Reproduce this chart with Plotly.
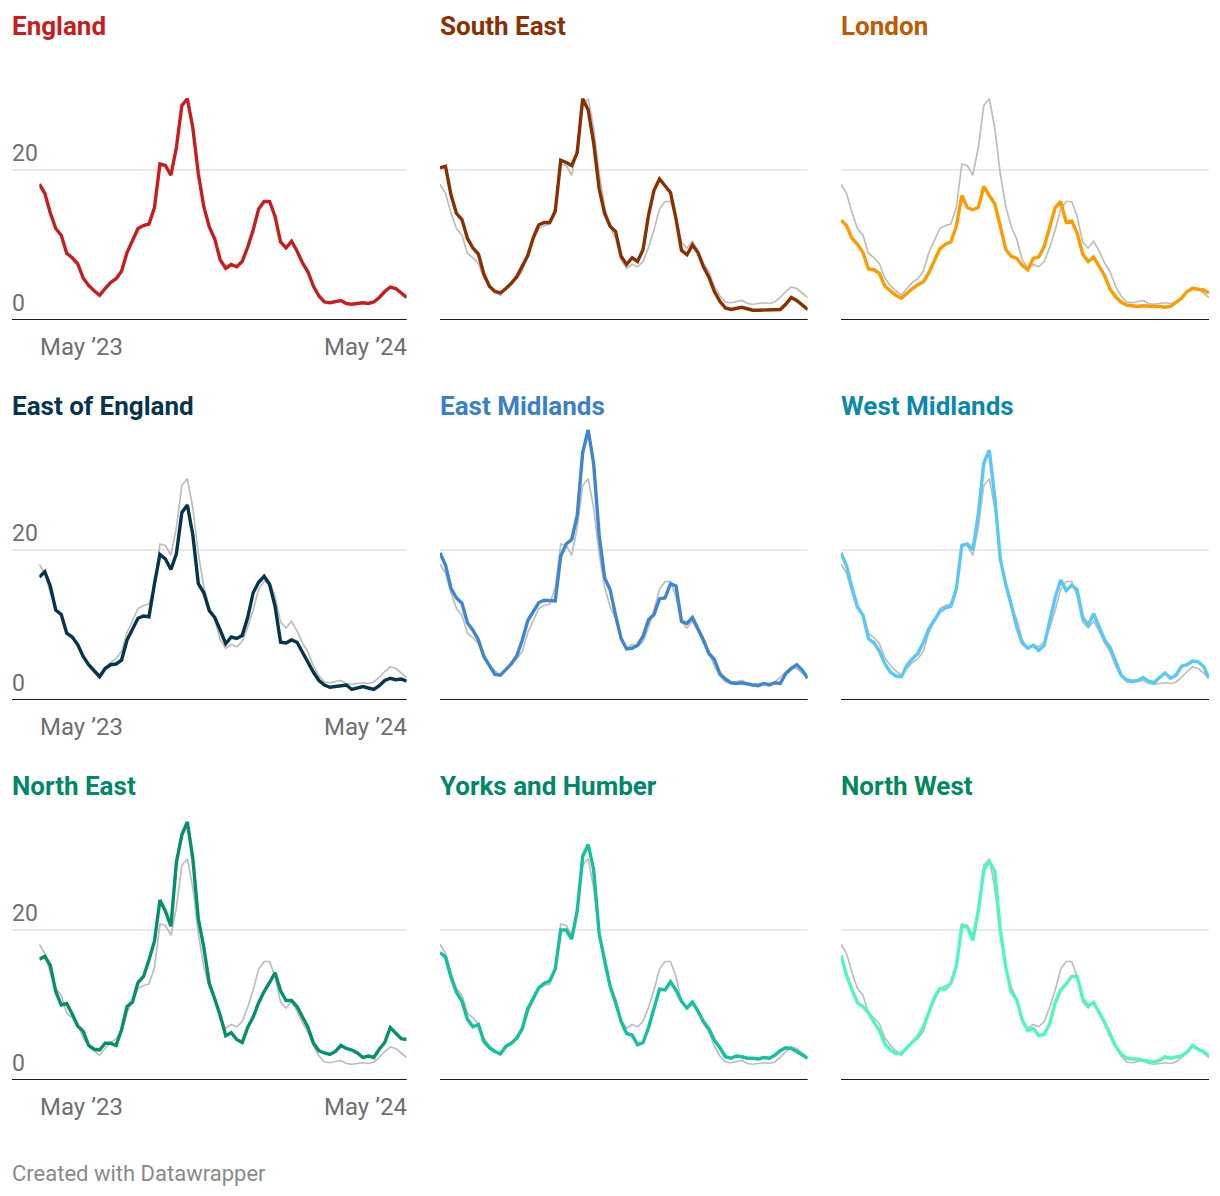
import plotly.graph_objects as go
import pandas as pd

# ---- data -------------------------------------------------------------
dates = pd.date_range("2023-03-08", periods=68, freq="7D")

england = [18.1, 16.9, 14.3, 12.2, 11.3, 8.9, 8.3, 7.5, 5.6, 4.6,
           3.9, 3.3, 4.2, 5.0, 5.5, 6.5, 9.0, 10.5, 12.2, 12.6,
           12.8, 15.0, 20.8, 20.6, 19.3, 23.0, 28.6, 29.5, 25.6, 19.5,
           15.1, 12.4, 10.8, 8.0, 6.9, 7.4, 7.1, 7.8, 9.7, 12.0,
           14.8, 15.8, 15.8, 13.8, 10.4, 9.6, 10.5, 9.2, 7.6, 6.4,
           4.5, 3.2, 2.4, 2.3, 2.5, 2.6, 2.2, 2.1, 2.2, 2.3,
           2.2, 2.4, 3.0, 3.8, 4.4, 4.2, 3.6, 3.0]
south_east = [20.3, 20.5, 16.7, 14.2, 13.4, 10.9, 9.6, 8.8, 6.1, 4.5,
              3.8, 3.6, 4.2, 4.9, 5.8, 7.3, 8.6, 11.0, 12.7, 13.0,
              13.0, 14.5, 21.3, 21.0, 20.6, 22.3, 29.5, 28.0, 23.6, 17.5,
              14.2, 12.5, 11.8, 8.5, 7.4, 8.3, 7.8, 9.4, 14.0, 17.3,
              18.8, 17.9, 17.0, 13.5, 9.3, 8.7, 10.0, 9.0, 7.1, 5.7,
              3.8, 2.5, 1.6, 1.4, 1.5, 1.7, 1.5, 1.3, 1.3, 1.3,
              1.3, 1.3, 1.4, 2.1, 3.0, 2.6, 2.0, 1.4]
london = [13.3, 12.6, 10.9, 10.1, 9.0, 6.8, 6.7, 6.2, 4.5, 3.9,
          3.3, 2.9, 3.6, 4.2, 4.7, 5.1, 6.3, 7.8, 9.5, 10.1,
          10.4, 12.5, 16.6, 15.0, 14.7, 15.0, 17.8, 16.6, 15.5, 12.5,
          9.4, 8.5, 8.2, 7.3, 6.7, 8.2, 8.4, 9.8, 12.4, 15.0,
          15.8, 13.0, 13.2, 11.6, 8.8, 7.8, 8.4, 7.2, 5.9, 4.1,
          3.1, 2.4, 2.0, 1.9, 1.8, 1.9, 1.8, 1.8, 1.8, 1.7,
          1.8, 2.4, 2.9, 3.8, 4.2, 4.1, 4.0, 3.6]
east_of_england = [16.4, 17.1, 15.2, 12.0, 11.4, 8.9, 8.4, 7.4, 5.8, 4.7,
                   3.9, 3.1, 4.2, 4.7, 4.8, 5.3, 8.0, 9.5, 10.9, 11.2,
                   11.1, 15.5, 19.4, 18.8, 17.4, 19.5, 25.0, 26.0, 22.0, 15.5,
                   14.3, 11.9, 11.0, 9.3, 7.5, 8.4, 8.2, 8.6, 11.0, 14.3,
                   15.7, 16.5, 15.4, 12.5, 7.7, 7.6, 8.0, 7.7, 6.3, 5.0,
                   3.7, 2.6, 2.0, 1.7, 1.8, 1.9, 2.0, 1.4, 1.6, 1.8,
                   1.6, 1.4, 1.9, 2.6, 2.9, 2.7, 2.8, 2.5]
east_midlands = [19.6, 18.0, 14.9, 13.6, 12.9, 10.3, 9.3, 8.0, 5.8, 4.6,
                 3.4, 3.3, 4.1, 4.8, 5.9, 8.0, 10.6, 11.8, 13.0, 13.3,
                 13.2, 13.2, 19.2, 20.8, 21.4, 24.6, 33.0, 36.0, 31.5, 22.0,
                 16.3, 14.7, 11.3, 8.2, 6.8, 6.9, 7.3, 8.5, 10.7, 11.4,
                 13.5, 13.6, 15.5, 15.2, 10.5, 10.2, 11.0, 9.6, 8.0, 6.2,
                 5.4, 3.5, 2.8, 2.3, 2.2, 2.3, 2.1, 2.0, 1.9, 2.2,
                 2.0, 2.3, 2.2, 3.5, 4.2, 4.7, 4.0, 2.9]
west_midlands = [19.6, 17.9, 15.0, 12.4, 11.3, 8.2, 7.6, 6.5, 4.8, 3.7,
                 3.2, 3.1, 4.6, 5.5, 6.2, 7.7, 9.5, 10.6, 11.8, 12.3,
                 12.5, 14.8, 20.6, 20.8, 20.0, 24.8, 31.6, 33.3, 27.0, 18.8,
                 15.4, 12.7, 9.7, 7.6, 6.9, 7.3, 6.6, 7.3, 10.5, 13.7,
                 16.0, 14.6, 15.3, 14.7, 11.0, 10.0, 11.5, 9.8, 8.0, 7.0,
                 5.2, 3.3, 2.7, 2.5, 2.6, 3.0, 2.5, 2.3, 3.0, 3.6,
                 2.9, 3.3, 4.5, 4.7, 5.2, 5.1, 4.5, 2.9]
north_east = [16.1, 16.5, 15.3, 11.8, 10.0, 10.2, 8.8, 7.2, 6.5, 4.6,
              4.1, 4.0, 4.9, 4.9, 4.6, 6.7, 9.8, 10.4, 13.0, 13.8,
              16.0, 18.5, 24.0, 22.5, 20.5, 29.0, 32.7, 34.4, 29.5, 21.5,
              17.7, 12.9, 10.8, 8.6, 5.9, 6.3, 5.4, 5.0, 7.0, 8.4,
              10.3, 11.8, 13.0, 14.3, 11.9, 10.6, 10.6, 9.8, 8.4, 7.0,
              4.9, 3.9, 3.6, 3.4, 3.8, 4.6, 4.2, 4.0, 3.6, 3.0,
              3.2, 3.0, 4.1, 5.0, 7.0, 6.3, 5.5, 5.4]
yorks_humber = [17.0, 16.4, 13.7, 11.7, 10.5, 8.1, 7.1, 7.4, 5.1, 4.3,
                3.8, 3.5, 4.5, 4.9, 5.6, 6.9, 9.5, 10.9, 12.3, 12.9,
                13.2, 14.8, 20.0, 20.0, 18.8, 22.5, 29.8, 31.4, 28.0, 19.5,
                16.0, 12.5, 10.3, 7.8, 6.2, 6.0, 4.7, 5.0, 7.0, 9.7,
                12.1, 12.0, 13.1, 12.0, 10.5, 9.6, 10.4, 9.2, 7.8, 6.8,
                5.3, 4.3, 3.1, 2.9, 3.2, 3.1, 2.9, 2.9, 2.8, 3.0,
                2.9, 3.3, 3.9, 4.3, 4.2, 3.8, 3.3, 2.9]
north_west = [16.6, 14.0, 12.0, 10.3, 9.8, 9.0, 7.7, 6.6, 4.8, 4.0,
              3.5, 3.6, 4.3, 5.0, 5.8, 7.1, 9.2, 11.0, 12.2, 12.1,
              12.9, 15.2, 20.5, 20.4, 18.6, 22.5, 28.0, 29.2, 27.8, 20.0,
              15.0, 11.7, 10.7, 8.0, 6.6, 6.9, 5.9, 6.1, 7.5, 10.3,
              12.0, 12.8, 13.8, 13.8, 10.9, 9.9, 10.3, 8.9, 7.7, 6.0,
              4.5, 3.5, 2.9, 2.8, 2.8, 2.6, 2.5, 2.4, 2.6, 3.1,
              2.9, 3.1, 3.2, 3.7, 4.6, 4.1, 3.8, 3.2]

region_names = ["England", "South East", "London",
                "East of England", "East Midlands", "West Midlands",
                "North East", "Yorks and Humber", "North West"]
region_values = [england, south_east, london,
                 east_of_england, east_midlands, west_midlands,
                 north_east, yorks_humber, north_west]
line_colors = ["#c71e1d", "#8a3000", "#ff9a00",
               "#05354e", "#3f86d0", "#58c8f4",
               "#058f6d", "#15bf9f", "#4ff5c2"]
title_colors = ["#c71e1d", "#8a3000", "#c05a00",
                "#05354e", "#3c7fc9", "#0a88ac",
                "#00876a", "#00866a", "#008a5c"]
y_ticks = [0, 20]
x_tick_dates = ["2023-05-01", "2024-05-01"]
x_tick_text = ["May \u201923", "May \u201924"]
x_tick_shift = [0, -3]
Y_MAX = 37

# ---- layout helpers (pixel -> paper) -----------------------------------
W, H, OFF = 1204, 1180, 8
def px(X):
    return (X - OFF) / W
def py(Y):
    return 1 - (Y - OFF) / H

col_plot = [(39.3, 406.7), (440, 807.7), (841, 1209)]
col_left = [12, 440, 841]
PX_PER_UNIT = 7.5

fig = go.Figure()
layout = {}
shapes = []
annotations = []
FONT = "Roboto"

for k, (name, vals) in enumerate(zip(region_names, region_values)):
    r, c = divmod(k, 3)
    n = "" if k == 0 else str(k + 1)
    y0 = 320 + 380 * r
    ytop = y0 - Y_MAX * PX_PER_UNIT
    layout[f"xaxis{n}"] = dict(domain=[px(col_plot[c][0]), px(col_plot[c][1])],
                               range=[dates[0], dates[-1]], visible=False,
                               anchor=f"y{n}", fixedrange=True)
    layout[f"yaxis{n}"] = dict(domain=[py(y0), py(ytop)], range=[0, Y_MAX],
                               visible=False, anchor=f"x{n}", fixedrange=True)
    # gridline at 20 and baseline at 0
    shapes.append(dict(type="line", xref="paper", yref=f"y{n}",
                       x0=px(col_left[c]), x1=px(col_plot[c][1]), y0=20, y1=20,
                       line=dict(color="#e2e2e2", width=1.5), layer="below"))
    shapes.append(dict(type="line", xref="paper", yref=f"y{n}",
                       x0=px(col_left[c]), x1=px(col_plot[c][1]), y0=0, y1=0,
                       line=dict(color="#1a1a1a", width=2), layer="below"))
    if k > 0:
        fig.add_trace(go.Scatter(x=dates, y=england, mode="lines",
                                 line=dict(color="#bdbdbd", width=1.7),
                                 xaxis=f"x{n}", yaxis=f"y{n}",
                                 hoverinfo="skip", showlegend=False))
    fig.add_trace(go.Scatter(x=dates, y=vals, mode="lines", name=name,
                             line=dict(color=line_colors[k], width=3.4),
                             xaxis=f"x{n}", yaxis=f"y{n}", showlegend=False))
    # title
    annotations.append(dict(text=f"<b>{name}</b>", xref="paper", yref="paper",
                            x=px(col_left[c]), y=py(26 + 380 * r), xshift=-2,
                            xanchor="left", yanchor="middle", showarrow=False,
                            font=dict(family=FONT, size=26, color=title_colors[k])))
    if c == 0:
        for t in y_ticks:
            annotations.append(dict(text=str(t), xref="paper", yref=f"y{n}",
                                    x=px(10), y=t, yshift=17,
                                    xanchor="left", yanchor="middle", showarrow=False,
                                    font=dict(family=FONT, size=23, color="#6f6f6f")))
        for d, txt, sh in zip(x_tick_dates, x_tick_text, x_tick_shift):
            annotations.append(dict(text=txt, xref=f"x{n}", yref="paper",
                                    x=d, y=py(y0 + 27), xshift=sh,
                                    xanchor="center", yanchor="middle", showarrow=False,
                                    font=dict(family=FONT, size=24, color="#6f6f6f")))

annotations.append(dict(text="Created with Datawrapper", xref="paper", yref="paper",
                        x=px(10), y=py(1173), xanchor="left", yanchor="middle",
                        showarrow=False,
                        font=dict(family=FONT, size=22, color="#8a8a8a")))

fig.update_layout(**layout)
fig.update_layout(width=W, height=H, margin=dict(l=0, r=0, t=0, b=0),
                  paper_bgcolor="white", plot_bgcolor="white",
                  shapes=shapes, annotations=annotations, showlegend=False)

fig.write_html("out.html", config={"displayModeBar": False})
